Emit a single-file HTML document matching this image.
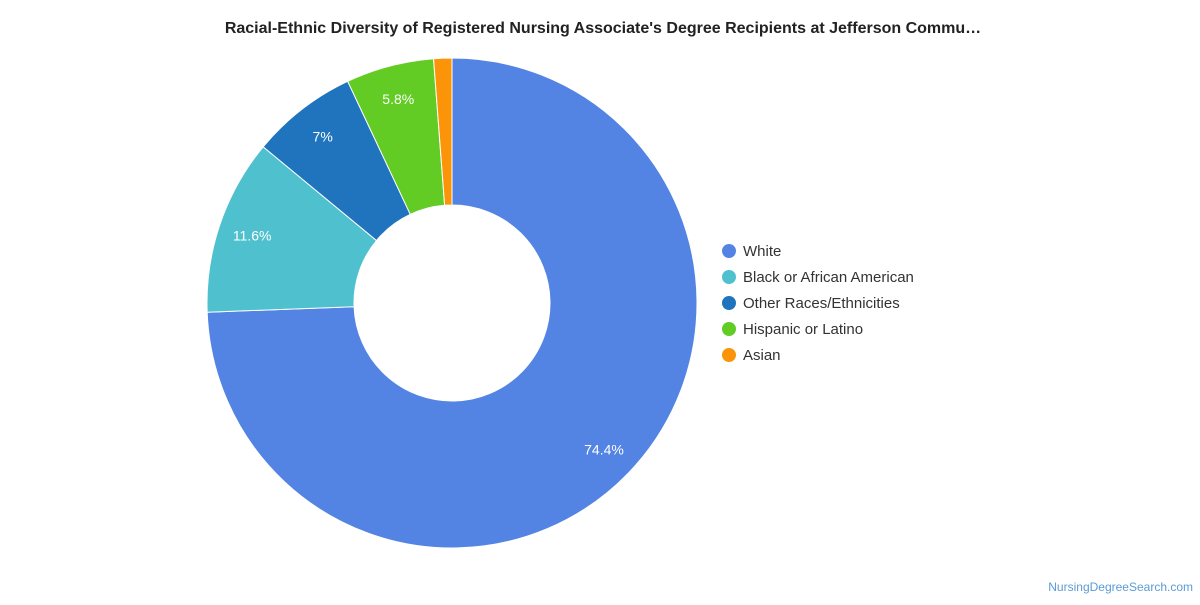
<!DOCTYPE html>
<html><head><meta charset="utf-8"><style>
body{margin:0;background:#fff;font-family:"Liberation Sans",sans-serif}
</style></head><body>
<svg width="1200" height="600">
<text x="603" y="33" text-anchor="middle" font-size="16" font-weight="bold" fill="#222">Racial-Ethnic Diversity of Registered Nursing Associate's Degree Recipients at Jefferson Commu…</text>
<g id="slices"></g>
<g id="legend"></g>
<text x="1193" y="591" text-anchor="end" font-size="12" fill="#5b9bd5">NursingDegreeSearch.com</text>
</svg>
<script>
const categories=["White","Black or African American","Other Races/Ethnicities","Hispanic or Latino","Asian"];
const values=[74.4,11.6,7,5.8,1.2];
const labels=["74.4%","11.6%","7%","5.8%",""];
const colors=["#5484e3","#4fc1ce","#1f74bd","#62cb24","#fb9409"];
const cx=452,cy=303,R=245,r=98,LR=211;
const ns="http://www.w3.org/2000/svg";
const total=values.reduce((a,b)=>a+b,0);
const g=document.getElementById('slices');
let a=0;
function pt(rad,ang){return [cx+rad*Math.sin(ang),cy-rad*Math.cos(ang)];}
values.forEach((v,i)=>{
  const a0=a,a1=a+v/total*2*Math.PI;a=a1;
  const big=(a1-a0)>Math.PI?1:0;
  const [x0,y0]=pt(R,a0),[x1,y1]=pt(R,a1),[x2,y2]=pt(r,a1),[x3,y3]=pt(r,a0);
  const p=document.createElementNS(ns,'path');
  p.setAttribute('d',`M${x0},${y0}A${R},${R} 0 ${big} 1 ${x1},${y1}L${x2},${y2}A${r},${r} 0 ${big} 0 ${x3},${y3}Z`);
  p.setAttribute('fill',colors[i]);p.setAttribute('stroke','#fff');p.setAttribute('stroke-width','1');
  
  
  g.appendChild(p);
  if(labels[i]){
    const [lx,ly]=pt(LR,(a0+a1)/2);
    const t=document.createElementNS(ns,'text');
    t.setAttribute('x',lx);t.setAttribute('y',ly+5);t.setAttribute('text-anchor','middle');
    t.setAttribute('font-size','14');t.setAttribute('fill','#fff');t.textContent=labels[i];
    
    
    g.appendChild(t);
  }
});
const lg=document.getElementById('legend');
categories.forEach((c,i)=>{
  const y=251+i*26;
  const ci=document.createElementNS(ns,'circle');
  ci.setAttribute('cx',729);ci.setAttribute('cy',y);ci.setAttribute('r',7);ci.setAttribute('fill',colors[i]);
  
  
  lg.appendChild(ci);
  const t=document.createElementNS(ns,'text');
  t.setAttribute('x',743);t.setAttribute('y',y+5);t.setAttribute('font-size','15');t.setAttribute('fill','#333');
  t.textContent=c;
  
  
  lg.appendChild(t);
});
</script>
</body></html>
